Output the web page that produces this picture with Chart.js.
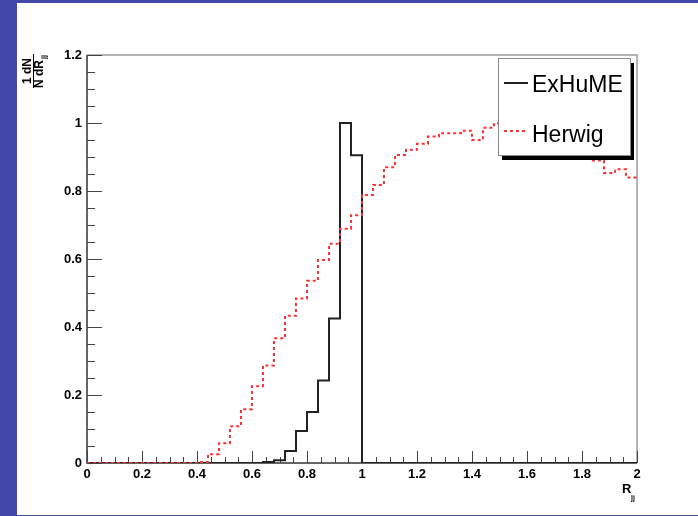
<!DOCTYPE html>
<html>
<head>
<meta charset="utf-8">
<script src="https://cdn.jsdelivr.net/npm/chart.js@4/dist/chart.umd.min.js"></script>
<style>
  html, body { margin: 0; padding: 0; }
  body { width: 698px; height: 516px; background: #4347a8; position: relative; overflow: hidden; }
  #wrap { position: absolute; left: 17px; top: 3px; width: 681px; height: 512px; background: #fff; }
</style>
</head>
<body>
<div id="wrap"><canvas id="plot" width="681" height="512"></canvas></div>
<script>
// histogram bin edges (50 bins of 0.04 from 0 to 2)
var binEdges = [0, 0.04, 0.08, 0.12, 0.16, 0.2, 0.24, 0.28, 0.32, 0.36,
    0.4, 0.44, 0.48, 0.52, 0.56, 0.6, 0.64, 0.68, 0.72, 0.76,
    0.8, 0.84, 0.88, 0.92, 0.96, 1.0, 1.04, 1.08, 1.12, 1.16,
    1.2, 1.24, 1.28, 1.32, 1.36, 1.4, 1.44, 1.48, 1.52, 1.56,
    1.6, 1.64, 1.68, 1.72, 1.76, 1.8, 1.84, 1.88, 1.92, 1.96, 2.0];

var exhumeValues = [0, 0, 0, 0, 0, 0, 0, 0, 0, 0,
    0, 0, 0, 0, 0, 0, 0.003, 0.008, 0.035, 0.094,
    0.15, 0.243, 0.425, 1.0, 0.905, 0, 0, 0, 0, 0,
    0, 0, 0, 0, 0, 0, 0, 0, 0, 0,
    0, 0, 0, 0, 0, 0, 0, 0, 0, 0];

var herwigValues = [0, 0, 0, 0, 0, 0, 0, 0, 0, 0,
    0.003, 0.026, 0.058, 0.108, 0.158, 0.226, 0.287, 0.367, 0.433, 0.484,
    0.536, 0.597, 0.645, 0.689, 0.729, 0.788, 0.818, 0.870, 0.906, 0.921,
    0.939, 0.960, 0.970, 0.970, 0.977, 0.950, 0.986, 0.999, 0.99, 0.985,
    0.975, 0.97, 0.955, 0.94, 0.925, 0.905, 0.89, 0.853, 0.864, 0.840];

var seriesNames = ['ExHuME', 'Herwig'];

var tickFont = { family: 'Liberation Sans', size: 13, weight: 'bold' };

function histPoints(values) {
    var pts = [];
    for (var i = 0; i < values.length; i++) {
        pts.push({ x: binEdges[i], y: values[i] });
    }
    pts.push({ x: binEdges[values.length], y: values[values.length - 1] });
    return pts;
}

// frame, inward ticks, axis titles and the legend box, ROOT style
var rootDecor = {
    id: 'rootDecor',
    beforeDatasetsDraw: function (chart) {
        var ctx = chart.ctx;
        var a = chart.chartArea;
        var xs = chart.scales.x;
        var ys = chart.scales.y;
        ctx.save();

        // frame top / right
        ctx.strokeStyle = '#9c9c9c';
        ctx.lineWidth = 1.5;
        ctx.beginPath();
        ctx.moveTo(a.left, a.top);
        ctx.lineTo(a.right, a.top);
        ctx.lineTo(a.right, a.bottom);
        ctx.stroke();

        // axes
        ctx.strokeStyle = '#333';
        ctx.lineWidth = 1.5;
        ctx.beginPath();
        ctx.moveTo(a.left, a.top);
        ctx.lineTo(a.left, a.bottom);
        ctx.lineTo(a.right, a.bottom);
        ctx.stroke();

        // x ticks every 0.05, major every 0.2
        ctx.lineWidth = 1;
        ctx.strokeStyle = '#444';
        ctx.beginPath();
        for (var k = 0; k <= 40; k++) {
            var px = Math.round(xs.getPixelForValue(k * 0.05)) + 0.5;
            var len = (k % 4 === 0) ? 12 : 6;
            ctx.moveTo(px, a.bottom);
            ctx.lineTo(px, a.bottom - len);
        }
        // y ticks every 0.05, major every 0.2
        for (var j = 0; j <= 24; j++) {
            var py = Math.round(ys.getPixelForValue(j * 0.05)) + 0.5;
            var ylen = (j % 4 === 0) ? 15 : 8;
            ctx.moveTo(a.left, py);
            ctx.lineTo(a.left + ylen, py);
        }
        ctx.stroke();
        ctx.restore();
    },
    afterDraw: function (chart) {
        var ctx = chart.ctx;
        ctx.save();

        // y axis title: 1 dN / N dR_jj (rotated fraction)
        ctx.fillStyle = '#000';
        ctx.save();
        ctx.translate(16, 68);
        ctx.rotate(-Math.PI / 2);
        ctx.font = 'bold 12px "Liberation Sans"';
        ctx.textAlign = 'center';
        ctx.textBaseline = 'alphabetic';
        ctx.fillText('1 dN', 0, -2);
        ctx.fillText('N dR', -3, 10);
        ctx.font = 'bold 7px "Liberation Sans"';
        ctx.textAlign = 'left';
        ctx.fillText('jj', 12, 13);
        ctx.strokeStyle = '#000';
        ctx.lineWidth = 1;
        ctx.beginPath();
        ctx.moveTo(-17, 0.5);
        ctx.lineTo(17, 0.5);
        ctx.stroke();
        ctx.restore();

        // x axis title: R_jj
        ctx.font = 'bold 13px "Liberation Sans"';
        ctx.textAlign = 'left';
        ctx.textBaseline = 'alphabetic';
        ctx.fillText('R', 605, 490);
        ctx.font = 'bold 7px "Liberation Sans"';
        ctx.fillText('jj', 614, 497);

        // legend with shadow
        var bx = 481, by = 55, bw = 132, bh = 97;
        ctx.fillStyle = '#000';
        ctx.fillRect(bx + 4, by + 5, bw, bh);
        ctx.fillStyle = '#fff';
        ctx.fillRect(bx, by, bw, bh);
        ctx.strokeStyle = '#8a8a8a';
        ctx.lineWidth = 1;
        ctx.strokeRect(bx + 0.5, by + 0.5, bw, bh);

        var ds = chart.data.datasets;
        var rows = [80, 128];
        var bases = [89, 139];
        for (var i = 0; i < ds.length; i++) {
            ctx.strokeStyle = ds[i].borderColor;
            ctx.lineWidth = ds[i].borderWidth;
            ctx.setLineDash(ds[i].borderDash || []);
            ctx.beginPath();
            ctx.moveTo(bx + 6, rows[i]);
            ctx.lineTo(bx + 30, rows[i]);
            ctx.stroke();
            ctx.setLineDash([]);
            ctx.fillStyle = '#000';
            ctx.font = '23px "Liberation Sans"';
            ctx.textAlign = 'left';
            ctx.fillText(ds[i].label, bx + 34, bases[i]);
        }
        ctx.restore();
    }
};

var ctx = document.getElementById('plot').getContext('2d');
var chart = new Chart(ctx, {
    type: 'line',
    data: {
        datasets: [{
            label: seriesNames[0],
            data: histPoints(exhumeValues),
            borderColor: '#222',
            borderWidth: 2,
            stepped: 'before',
            pointRadius: 0,
            fill: false,
            order: 2
        }, {
            label: seriesNames[1],
            data: histPoints(herwigValues),
            borderColor: '#ff3030',
            borderWidth: 2,
            borderDash: [3, 3],
            stepped: 'before',
            pointRadius: 0,
            fill: false,
            order: 1
        }]
    },
    options: {
        responsive: false,
        animation: false,
        devicePixelRatio: 1,
        layout: { padding: { left: 0, right: 61, top: 52, bottom: 0 } },
        plugins: {
            legend: { display: false },
            tooltip: { enabled: false }
        },
        scales: {
            x: {
                type: 'linear',
                min: 0,
                max: 2,
                grid: { display: false, drawTicks: false },
                border: { display: false },
                ticks: {
                    stepSize: 0.2,
                    padding: 4,
                    color: '#000',
                    font: tickFont,
                    maxRotation: 0,
                    autoSkip: false,
                    callback: function (v) { return String(+v.toFixed(1)); }
                },
                afterFit: function (s) { s.height = 52; }
            },
            y: {
                type: 'linear',
                min: 0,
                max: 1.2,
                grid: { display: false, drawTicks: false },
                border: { display: false },
                ticks: {
                    stepSize: 0.2,
                    padding: 5,
                    color: '#000',
                    font: tickFont,
                    autoSkip: false,
                    callback: function (v) { return String(+v.toFixed(1)); }
                },
                afterFit: function (s) { s.width = 70; }
            }
        }
    },
    plugins: [rootDecor]
});
</script>
</body>
</html>
